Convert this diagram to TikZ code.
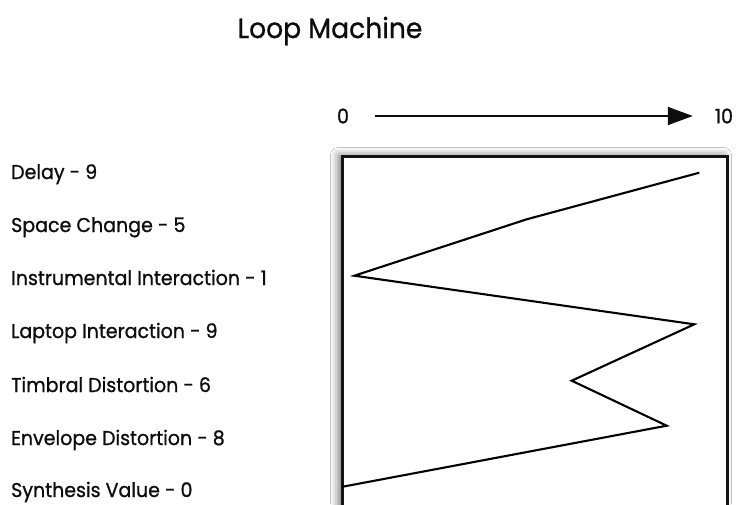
\documentclass[tikz,border=0pt]{standalone}
\usepackage{fontspec}
\setmainfont{Poppins}[FakeBold=0.9,FakeStretch=0.95]
\usetikzlibrary{arrows.meta,shadows.blur}

\begin{document}
\begin{tikzpicture}[x=1pt,y=-1pt,
  ink/.style={color=black!95},
  label/.style={ink,anchor=base west,inner sep=0pt,font=\fontsize{20}{24}\selectfont},
  tick/.style={ink,inner sep=0pt,font=\fontsize{20}{24}\selectfont},
  frame/.style={draw=black!92,line width=2.4pt,fill=white,
    blur shadow={shadow xshift=-4pt,shadow yshift=1pt,shadow blur radius=8pt,shadow opacity=55}},
  trace/.style={draw=black,line width=2.1pt,line join=miter},
]
\useasboundingbox[fill=white] (0,0) rectangle (739,504);

% title
\node[ink,inner sep=0pt,font=\fontsize{28}{33}\selectfont] (title) at (330,31) {Loop Machine};

% scale arrow
\node[tick] (zero) at (343,116) {0};
\node[tick] (ten) at (724,116) {10};
\draw[ink,line width=1.7pt,-{Triangle[length=25pt,width=18pt]},
  shorten <=26pt,shorten >=22pt] (zero) -- (ten);

% plot frame
\path[frame] (342.5,156.5) rectangle (727.5,530);

% parameter labels
\node[label] (delay)   at (11,179) {Delay - 9};
\node[label] (space)   at (11,232) {Space Change - 5};
\node[label] (instr)   at (11,285) {Instrumental Interaction - 1};
\node[label] (laptop)  at (11,338) {Laptop Interaction - 9};
\node[label] (timbral) at (11,392) {Timbral Distortion - 6};
\node[label] (env)     at (11,445) {Envelope Distortion - 8};
\node[label] (synth)   at (11,497) {Synthesis Value - 0};

% value trace
\coordinate (p1) at (699.3,172.7);
\coordinate (p2) at (526.7,219.3);
\coordinate (p3) at (354.3,275.7);
\coordinate (p4) at (694.3,324.3);
\coordinate (p5) at (571.7,380.7);
\coordinate (p6) at (666.7,425.7);
\coordinate (p7) at (342.7,486.7);
\draw[trace] (p1) -- (p2) -- (p3) -- (p4) -- (p5) -- (p6) -- (p7);
\end{tikzpicture}
\end{document}
